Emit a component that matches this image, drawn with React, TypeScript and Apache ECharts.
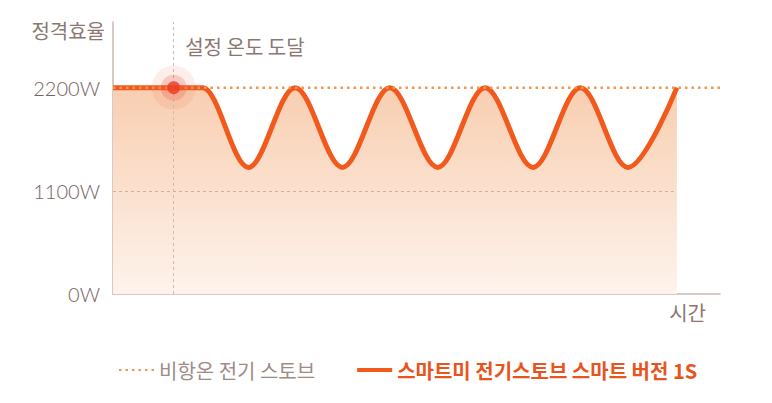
import React, { useEffect, useRef } from "react";
import * as echarts from "echarts";

// time axis runs 0..100 (arbitrary units), power in W
const powerTicks = [0, 1100, 2200];
const steadyName = "비항온 전기 스토브";
const smartName = "스마트미 전기스토브 스마트 버전 1S";
const steadyData = [
  [0, 2200],
  [100, 2200],
];
const smartData = [
  [0, 2200],
  [10, 2200],
  [14.8, 2200],
  [22.3, 1350],
  [30, 2200],
  [37.8, 1350],
  [45.6, 2200],
  [53.5, 1350],
  [61.3, 2200],
  [69.2, 1350],
  [77, 2200],
  [84.8, 1350],
  [92.9, 2200],
];
const reachPoint = [10, 2200];
const reachLabel = "설정 온도 도달";

const KR = '"Noto Sans CJK KR", "Noto Sans", sans-serif';

const App: React.FC = () => {
  const chartRef = useRef<HTMLDivElement>(null);

  useEffect(() => {
    document.body.style.margin = "0";
    if (!chartRef.current) return;
    const chart = echarts.init(chartRef.current, undefined, { renderer: "svg" });

    const lastX = smartData[smartData.length - 1][0];

    const option: echarts.EChartsOption = {
      animation: false,
      backgroundColor: "#ffffff",
      grid: { left: 113, right: 52, top: 22, bottom: 109 },
      legend: {
        left: 113,
        top: 355,
        itemWidth: 35,
        itemHeight: 14,
        itemGap: 40,
        itemStyle: { opacity: 0 },
        data: [
          {
            name: steadyName,
            textStyle: { color: "#9d8b86", fontSize: 20, fontFamily: KR },
          },
          {
            name: smartName,
            lineStyle: { width: 4 },
            textStyle: {
              color: "#e9541c",
              fontSize: 20,
              fontWeight: "bold",
              fontFamily: KR,
            },
          },
        ],
      },
      xAxis: {
        type: "value",
        min: 0,
        max: 100,
        name: "시간",
        nameLocation: "end",
        nameGap: 0,
        nameTextStyle: {
          color: "#8a7772",
          fontSize: 20,
          fontFamily: KR,
          align: "right",
          verticalAlign: "top",
          padding: [9, 14, 0, 0],
        },
        axisLine: { lineStyle: { color: "#cdb7b1", width: 1.5 } },
        axisTick: { show: false },
        axisLabel: { show: false },
        splitLine: { show: false },
      },
      yAxis: {
        type: "value",
        min: 0,
        max: 2900,
        interval: 1100,
        name: "정격효율",
        nameLocation: "end",
        nameGap: -8,
        nameTextStyle: {
          color: "#8a7772",
          fontSize: 20,
          fontFamily: KR,
          align: "right",
          verticalAlign: "middle",
          padding: [0, 8, 0, 0],
        },
        axisLine: { show: true, lineStyle: { color: "#cdb7b1", width: 1.5 } },
        axisTick: { show: false },
        splitLine: { show: false },
        axisLabel: {
          showMaxLabel: false,
          margin: 13,
          color: "#76625d",
          fontSize: 20,
          fontWeight: 300,
          fontFamily: "Lato, sans-serif",
          formatter: (v: number) => (powerTicks.includes(v) ? `${v}W` : ""),
        },
      },
      series: [
        {
          name: smartName,
          type: "line",
          data: smartData,
          smooth: 0.34,
          smoothMonotone: "x",
          symbol: "none",
          z: 3,
          lineStyle: { color: "#f15a1c", width: 5 },
          itemStyle: { color: "#f15a1c" },
          areaStyle: {
            color: new echarts.graphic.LinearGradient(0, 0, 0, 1, [
              { offset: 0, color: "#f8ceb1" },
              { offset: 1, color: "#fef3ec" },
            ]),
            opacity: 1,
          },
          markLine: {
            silent: true,
            symbol: "none",
            label: { show: false },
            lineStyle: { color: "#d9ab98", type: [3, 3], width: 1 },
            data: [
              [
                { coord: [0, powerTicks[1]] },
                { coord: [lastX, powerTicks[1]] },
              ],
            ],
          },
        },
        {
          name: steadyName,
          type: "line",
          data: steadyData,
          symbol: "none",
          z: 4,
          lineStyle: { color: "#ee9752", width: 2.5, type: [2.5, 4] },
          itemStyle: { color: "#ee9752" },
        },
        {
          type: "scatter",
          z: 5,
          silent: true,
          data: [
            { value: reachPoint, symbolSize: 44, itemStyle: { color: "rgba(240,90,70,0.13)" } },
            { value: reachPoint, symbolSize: 26, itemStyle: { color: "rgba(238,78,58,0.3)" } },
            { value: reachPoint, symbolSize: 13, itemStyle: { color: "#ec3a22" } },
          ],
          markLine: {
            silent: true,
            symbol: "none",
            label: { show: false },
            lineStyle: { color: "#cdbab3", type: [3, 3], width: 1 },
            data: [{ xAxis: reachPoint[0] }],
          },
          markPoint: {
            silent: true,
            symbol: "circle",
            symbolSize: 1,
            itemStyle: { color: "rgba(0,0,0,0)" },
            label: {
              show: true,
              position: "right",
              distance: 11,
              color: "#8a7772",
              fontSize: 20,
              fontFamily: KR,
              formatter: reachLabel,
            },
            data: [{ coord: [reachPoint[0], 2640] }],
          },
        },
      ],
    };

    chart.setOption(option);
    return () => chart.dispose();
  }, []);

  return <div ref={chartRef} style={{ width: 772, height: 403 }} />;
};

export default App;
